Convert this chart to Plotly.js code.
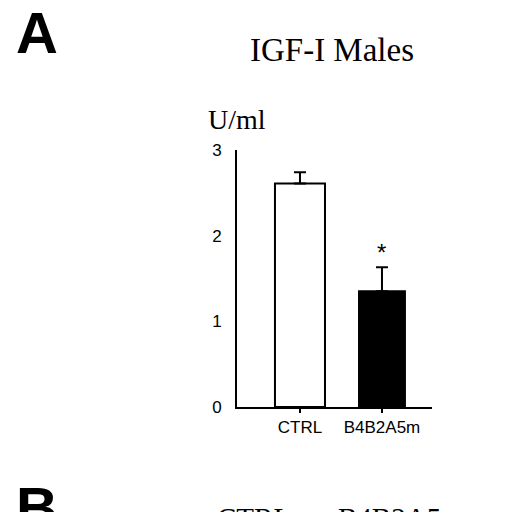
<!DOCTYPE html>
<html>
<head>
<meta charset="utf-8">
<script src="https://cdn.plot.ly/plotly-3.0.1.min.js"></script>
<style>html,body{margin:0;padding:0;background:#fff;}#chart{width:512px;height:512px;}</style>
</head>
<body>
<div id="chart"></div>
<script>
// Data
const categories = ["CTRL", "B4B2A5m"];
const igfValues = [2.61, 1.35];
const igfErrors = [0.13, 0.28];
const yTickVals = [0, 1, 2, 3];
const yTickText = ["0", "1", "2", "3"];

// Layout geometry (pixels)
const W = 512, H = 512;
const L = 237, R = 80, T = 150, B = 105;
const plotW = W - L - R, plotH = H - T - B;
const px = x => (x - L) / plotW;
const py = y => (H - B - y) / plotH;

const trace = {
  type: "bar",
  x: [0, 1],
  y: igfValues,
  width: [0.61, 0.56],
  marker: { color: ["#ffffff", "#000000"], line: { color: "#000000", width: 2 } },
  error_y: { type: "data", symmetric: false, array: igfErrors, arrayminus: [0, 0], color: "#000", thickness: 2, width: 6 },
  hoverinfo: "none"
};

const layout = {
  width: W, height: H,
  margin: { l: L, r: R, t: T, b: B, pad: 0 },
  paper_bgcolor: "#fff", plot_bgcolor: "#fff",
  showlegend: false,
  title: { text: "IGF-I Males", x: 332 / W, xanchor: "center", y: 1 - 49 / H, yanchor: "middle",
           font: { family: "Liberation Serif, Times New Roman, serif", size: 33, color: "#000" } },
  xaxis: {
    range: [-0.768, 1.61], tickvals: [0, 1], ticktext: categories,
    showline: true, linecolor: "#000", linewidth: 2, showgrid: false, zeroline: false,
    ticks: "outside", ticklen: 4, tickwidth: 2, tickcolor: "#000",
    tickfont: { family: "Liberation Sans, Arial, sans-serif", size: 17, color: "#000" },
    fixedrange: true
  },
  yaxis: {
    range: [0, 3], tickvals: yTickVals, ticktext: yTickText,
    showline: true, linecolor: "#000", linewidth: 2, showgrid: false, zeroline: false,
    ticks: "", ticklabelstandoff: 10,
    tickfont: { family: "Liberation Sans, Arial, sans-serif", size: 17, color: "#000" },
    fixedrange: true
  },
  annotations: [
    { text: "*", x: 1, y: 1.80, xref: "x", yref: "y", showarrow: false, yanchor: "middle",
      font: { family: "Liberation Sans, Arial, sans-serif", size: 24, color: "#000" } },
    { text: "U/ml", x: 0, y: py(119), xref: "paper", yref: "paper", showarrow: false, xanchor: "center", yanchor: "middle",
      font: { family: "Liberation Serif, Times New Roman, serif", size: 28, color: "#000" } },
    { text: "<b>A</b>", x: px(14), y: py(-2), xref: "paper", yref: "paper", showarrow: false, xanchor: "left", yanchor: "top",
      font: { family: "Liberation Sans, Arial, sans-serif", size: 58, color: "#000" } },
    { text: "<b>B</b>", x: px(14), y: py(473), xref: "paper", yref: "paper", showarrow: false, xanchor: "left", yanchor: "top",
      font: { family: "Liberation Sans, Arial, sans-serif", size: 58, color: "#000" } },
    { text: "CTRL", x: px(215), y: py(500), xref: "paper", yref: "paper", showarrow: false, xanchor: "left", yanchor: "top",
      font: { family: "Liberation Serif, Times New Roman, serif", size: 29, color: "#000" } },
    { text: "B4B2A5m", x: px(336), y: py(500), xref: "paper", yref: "paper", showarrow: false, xanchor: "left", yanchor: "top",
      font: { family: "Liberation Serif, Times New Roman, serif", size: 29, color: "#000" } }
  ]
};

Plotly.newPlot("chart", [trace], layout, { displayModeBar: false, staticPlot: true });
</script>
</body>
</html>
